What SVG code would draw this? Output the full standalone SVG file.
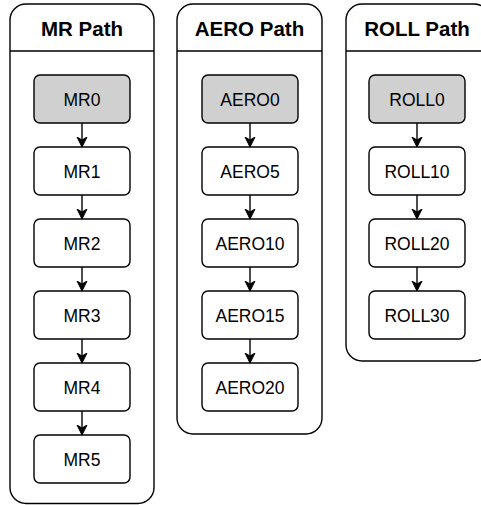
<svg xmlns="http://www.w3.org/2000/svg" width="481" height="505" viewBox="0 0 481 505">
<defs>
<style>
.cont{fill:#fff;stroke:#000;stroke-width:1.4}
.div{stroke:#000;stroke-width:1.4}
.title{font-family:"Liberation Sans",Arial,sans-serif;font-weight:bold;font-size:20.5px;text-anchor:middle;fill:#000}
.node rect{fill:#fff;stroke:#000;stroke-width:1.4}
.node.start rect{fill:#d0d0d0}
.node text{font-family:"Liberation Sans",Arial,sans-serif;font-size:17.5px;text-anchor:middle;fill:#000}
.edge{stroke:#000;stroke-width:1.4;fill:none;marker-end:url(#arr)}
</style>
<marker id="arr" markerWidth="10" markerHeight="12" refX="10" refY="6" orient="auto" markerUnits="userSpaceOnUse" viewBox="0 0 10 12">
<path d="M0,1 L10,6 L0,11 L3,6 Z" fill="#000" stroke="#000" stroke-width="1"/>
</marker>
</defs>
<g id="mr-path">
<rect class="cont" x="10" y="4" width="144" height="499.5" rx="16"/>
<line class="div" x1="10" y1="51" x2="154" y2="51"/>
<text class="title" x="82" y="36">MR Path</text>
</g>
<g id="aero-path">
<rect class="cont" x="177" y="4" width="145" height="430" rx="16"/>
<line class="div" x1="177" y1="51" x2="322" y2="51"/>
<text class="title" x="249.5" y="36">AERO Path</text>
</g>
<g id="roll-path">
<rect class="cont" x="346" y="4" width="144" height="357" rx="16"/>
<line class="div" x1="346" y1="51" x2="490" y2="51"/>
<text class="title" x="417" y="36">ROLL Path</text>
</g>
<g id="connectors">
<line class="edge" x1="82" y1="123" x2="82" y2="147"/>
<line class="edge" x1="82" y1="195" x2="82" y2="219"/>
<line class="edge" x1="82" y1="267" x2="82" y2="291"/>
<line class="edge" x1="82" y1="339" x2="82" y2="363"/>
<line class="edge" x1="82" y1="411" x2="82" y2="435"/>
<line class="edge" x1="250" y1="123" x2="250" y2="147"/>
<line class="edge" x1="250" y1="195" x2="250" y2="219"/>
<line class="edge" x1="250" y1="267" x2="250" y2="291"/>
<line class="edge" x1="250" y1="339" x2="250" y2="363"/>
<line class="edge" x1="417" y1="123" x2="417" y2="147"/>
<line class="edge" x1="417" y1="195" x2="417" y2="219"/>
<line class="edge" x1="417" y1="267" x2="417" y2="291"/>
</g>
<g id="MR0" class="node start"><rect x="34" y="75" width="96" height="48" rx="6"/><text x="82" y="105.5">MR0</text></g>
<g id="MR1" class="node"><rect x="34" y="147" width="96" height="48" rx="6"/><text x="82" y="177.5">MR1</text></g>
<g id="MR2" class="node"><rect x="34" y="219" width="96" height="48" rx="6"/><text x="82" y="249.5">MR2</text></g>
<g id="MR3" class="node"><rect x="34" y="291" width="96" height="48" rx="6"/><text x="82" y="321.5">MR3</text></g>
<g id="MR4" class="node"><rect x="34" y="363" width="96" height="48" rx="6"/><text x="82" y="393.5">MR4</text></g>
<g id="MR5" class="node"><rect x="34" y="435" width="96" height="48" rx="6"/><text x="82" y="465.5">MR5</text></g>
<g id="AERO0" class="node start"><rect x="202" y="75" width="96" height="48" rx="6"/><text x="250" y="105.5">AERO0</text></g>
<g id="AERO5" class="node"><rect x="202" y="147" width="96" height="48" rx="6"/><text x="250" y="177.5">AERO5</text></g>
<g id="AERO10" class="node"><rect x="202" y="219" width="96" height="48" rx="6"/><text x="250" y="249.5">AERO10</text></g>
<g id="AERO15" class="node"><rect x="202" y="291" width="96" height="48" rx="6"/><text x="250" y="321.5">AERO15</text></g>
<g id="AERO20" class="node"><rect x="202" y="363" width="96" height="48" rx="6"/><text x="250" y="393.5">AERO20</text></g>
<g id="ROLL0" class="node start"><rect x="369" y="75" width="96" height="48" rx="6"/><text x="417" y="105.5">ROLL0</text></g>
<g id="ROLL10" class="node"><rect x="369" y="147" width="96" height="48" rx="6"/><text x="417" y="177.5">ROLL10</text></g>
<g id="ROLL20" class="node"><rect x="369" y="219" width="96" height="48" rx="6"/><text x="417" y="249.5">ROLL20</text></g>
<g id="ROLL30" class="node"><rect x="369" y="291" width="96" height="48" rx="6"/><text x="417" y="321.5">ROLL30</text></g>
</svg>
